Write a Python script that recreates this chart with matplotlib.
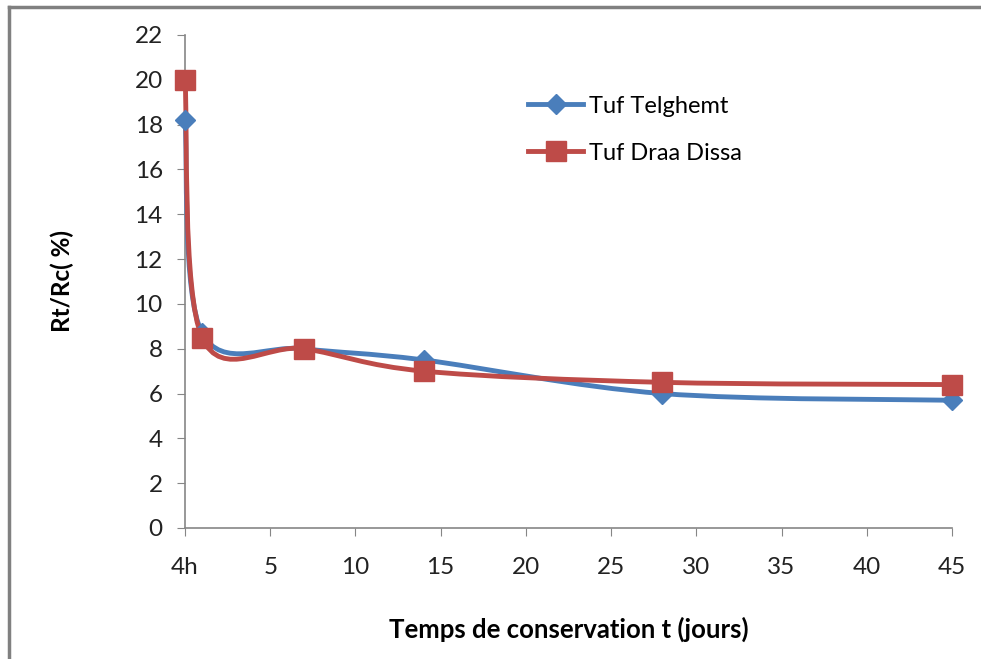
import numpy as np
import matplotlib
matplotlib.use('Agg')
import matplotlib.pyplot as plt
from matplotlib.path import Path
from matplotlib.patches import PathPatch
from matplotlib.lines import Line2D

plt.rcParams['font.family'] = ['Lato', 'DejaVu Sans']

# données
jours = [0, 1, 7, 14, 28, 45]
telghemt = [18.2, 8.7, 8.0, 7.5, 6.0, 5.7]
draa_dissa = [20.0, 8.5, 8.0, 7.0, 6.5, 6.4]
xticks = [0, 5, 10, 15, 20, 25, 30, 35, 40, 45]
xlabels = ['4h', '5', '10', '15', '20', '25', '30', '35', '40', '45']
yticks = [0, 2, 4, 6, 8, 10, 12, 14, 16, 18, 20, 22]

bleu = '#4A7EBB'
rouge = '#BE4B48'


def courbe_lissee(ax, xs, ys, color):
    # ligne lissée (bezier de type Catmull-Rom, comme Excel)
    p = np.column_stack([xs, ys]).astype(float)
    verts = [p[0]]
    codes = [Path.MOVETO]
    n = len(p)
    for i in range(n - 1):
        p0 = p[i - 1] if i > 0 else p[i]
        p3 = p[i + 2] if i + 2 < n else p[i + 1]
        c1 = p[i] + (p[i + 1] - p0) / 6
        c2 = p[i + 1] - (p3 - p[i]) / 6
        verts += [c1, c2, p[i + 1]]
        codes += [Path.CURVE4] * 3
    patch = PathPatch(Path(verts, codes), fill=False, edgecolor=color,
                      lw=3.5, capstyle='round', joinstyle='round', zorder=3,
                      clip_on=False)
    ax.add_patch(patch)


fig = plt.figure(figsize=(9.81, 6.59), dpi=100)
ax = fig.add_axes([0.1886, 0.1988, 0.7818, 0.7481])

courbe_lissee(ax, jours, telghemt, bleu)
ax.plot(jours, telghemt, ls='none', marker='D', ms=10, color=bleu, zorder=4, clip_on=False)
courbe_lissee(ax, jours, draa_dissa, rouge)
ax.plot(jours, draa_dissa, ls='none', marker='s', ms=14, color=rouge, zorder=5, clip_on=False)

ax.set_xlim(0, 45)
ax.set_ylim(0, 22)
ax.set_xticks(xticks)
ax.set_xticklabels(xlabels)
ax.set_yticks(yticks)
ax.tick_params(axis='both', direction='out', length=6, color='#868686',
               labelsize=17.5, labelcolor='#222222')
ax.tick_params(axis='x', pad=15)
ax.tick_params(axis='y', pad=10)
for s in ['top', 'right']:
    ax.spines[s].set_visible(False)
for s in ['left', 'bottom']:
    ax.spines[s].set_color('#868686')
    ax.spines[s].set_linewidth(1.2)

ax.set_ylabel('Rt/Rc( %)', fontsize=17.5, fontweight='bold')
ax.set_xlabel('Temps de conservation t (jours)', fontsize=18.5, fontweight='bold')
ax.yaxis.set_label_coords(-0.145, 0.5)
ax.xaxis.set_label_coords(0.5, -0.18)

handles = [Line2D([], [], color=bleu, lw=3.5, marker='D', ms=10),
           Line2D([], [], color=rouge, lw=3.5, marker='s', ms=14)]
ax.legend(handles, ['Tuf Telghemt', 'Tuf Draa Dissa'], loc='upper left',
          bbox_to_anchor=(0.42, 0.92), frameon=False, fontsize=17,
          handlelength=2.3, labelspacing=1.1, handletextpad=0.25)

# cadre du graphique
fig.add_artist(Line2D([9 / 981, 9 / 981], [0, 1 - 7 / 659], color='#808080', lw=2.5))
fig.add_artist(Line2D([9 / 981, 1], [1 - 7 / 659, 1 - 7 / 659], color='#808080', lw=2.5))

fig.savefig('out.png', dpi=100)
